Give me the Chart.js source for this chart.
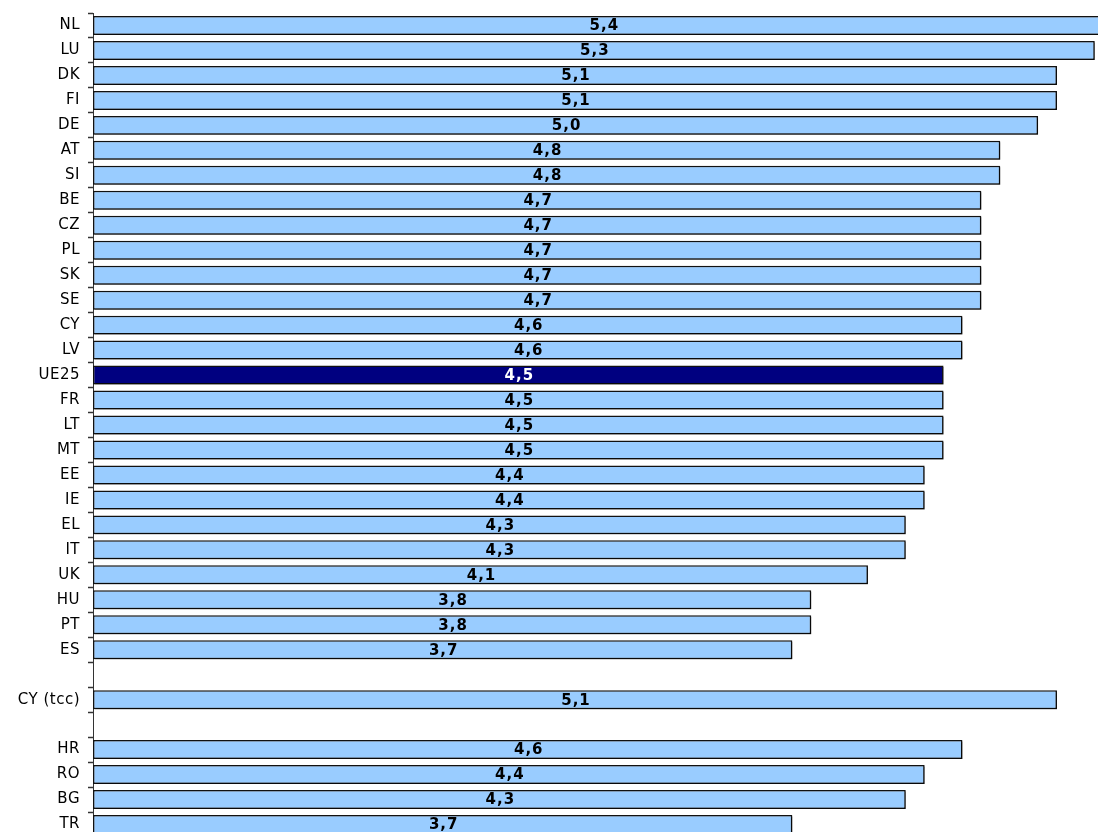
<!DOCTYPE html>
<html>
<head>
<meta charset="utf-8">
<script src="https://cdn.jsdelivr.net/npm/chart.js@4/dist/chart.umd.min.js"></script>
<style>
  html, body { margin: 0; padding: 0; background: #fff; overflow: hidden; }
  canvas { display: block; }
</style>
</head>
<body>
<canvas id="myChart" width="1098" height="840"></canvas>
<script>
// categorias (linhas vazias separam os grupos)
var paises = ['NL', 'LU', 'DK', 'FI', 'DE', 'AT', 'SI', 'BE', 'CZ', 'PL', 'SK', 'SE', 'CY', 'LV', 'UE25', 'FR', 'LT', 'MT', 'EE', 'IE', 'EL', 'IT', 'UK', 'HU', 'PT', 'ES', '', 'CY (tcc)', '', 'HR', 'RO', 'BG', 'TR'];
var valores = [5.4, 5.3, 5.1, 5.1, 5.0, 4.8, 4.8, 4.7, 4.7, 4.7, 4.7, 4.7, 4.6, 4.6, 4.5, 4.5, 4.5, 4.5, 4.4, 4.4, 4.3, 4.3, 4.1, 3.8, 3.8, 3.7, null, 5.1, null, 4.6, 4.4, 4.3, 3.7];
var destaque = 'UE25';
var eixoMax = 5.317;

var cores = paises.map(function (p) { return p === destaque ? '#000080' : '#99CCFF'; });

// sombra das barras
var sombra = {
	id: 'sombra',
	beforeDraw: function (chart) {
		chart.ctx.letterSpacing = '0.5px';
	},
	beforeDatasetsDraw: function (chart) {
		var ctx = chart.ctx;
		ctx.save();
		ctx.shadowColor = 'rgba(0,0,0,0.45)';
		ctx.shadowOffsetX = 1.5;
		ctx.shadowOffsetY = 1.5;
		ctx.shadowBlur = 0;
	},
	afterDatasetsDraw: function (chart) {
		chart.ctx.restore();
	}
};

// rotulos dos valores no meio da barra
var rotulos = {
	id: 'rotulos',
	afterDraw: function (chart) {
		var ctx = chart.ctx;
		var meta = chart.getDatasetMeta(0);
		ctx.save();
		ctx.letterSpacing = '1px';
		ctx.font = 'bold 15px "DejaVu Sans"';
		ctx.textAlign = 'center';
		ctx.textBaseline = 'middle';
		meta.data.forEach(function (bar, i) {
			if (valores[i] === null) return;
			ctx.fillStyle = paises[i] === destaque ? '#ffffff' : '#000000';
			var txt = valores[i].toFixed(1).replace('.', ',');
			ctx.fillText(txt, (bar.x + bar.base) / 2 + 1, bar.y + 1);
		});
		ctx.restore();
	}
};

var ctx = document.getElementById('myChart').getContext('2d');
var chart = new Chart(ctx, {
	type: 'bar',
	data: {
		labels: paises,
		datasets: [{
			data: valores,
			backgroundColor: cores,
			borderColor: '#111111',
			borderWidth: 1.5,
			borderSkipped: false,
			barPercentage: 0.76,
			categoryPercentage: 1
		}]
	},
	options: {
		indexAxis: 'y',
		responsive: false,
		animation: false,
		layout: { padding: { top: 13, bottom: 3, left: 0, right: 0 } },
		plugins: {
			legend: { display: false },
			tooltip: { enabled: false }
		},
		scales: {
			x: {
				display: false,
				min: 0,
				max: eixoMax
			},
			y: {
				afterFit: function (scale) {
					scale.width = 93;
					scale.paddingTop = 0;
					scale.paddingBottom = 0;
				},
				grid: {
					offset: true,
					drawOnChartArea: false,
					drawTicks: true,
					tickLength: 5,
					tickColor: '#333333',
					tickWidth: 1.5
				},
				border: { display: true, color: '#333333', width: 1 },
				ticks: {
					padding: 8,
					color: '#000000',
					font: { family: 'DejaVu Sans', size: 15 },
					autoSkip: false
				}
			}
		}
	},
	plugins: [sombra, rotulos]
});
</script>
</body>
</html>
